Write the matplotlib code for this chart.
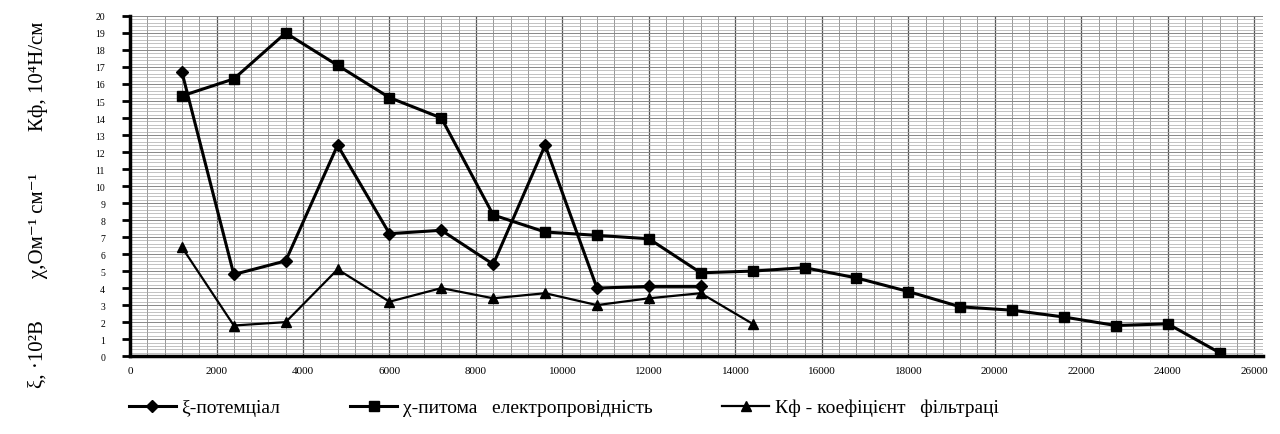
import numpy as np
import matplotlib
matplotlib.use("Agg")
import matplotlib.pyplot as plt
from matplotlib.ticker import MultipleLocator

plt.rcParams['font.family'] = ['Liberation Serif', 'DejaVu Serif']

# depth / sample values along x
x_xi = [1200, 2400, 3600, 4800, 6000, 7200, 8400, 9600, 10800, 12000, 13200]
xi = [16.7, 4.8, 5.6, 12.4, 7.2, 7.4, 5.4, 12.4, 4.0, 4.1, 4.1]

x_chi = [1200, 2400, 3600, 4800, 6000, 7200, 8400, 9600, 10800, 12000, 13200,
         14400, 15600, 16800, 18000, 19200, 20400, 21600, 22800, 24000, 25200]
chi = [15.3, 16.3, 19.0, 17.1, 15.2, 14.0, 8.3, 7.3, 7.1, 6.9, 4.9,
       5.0, 5.2, 4.6, 3.8, 2.9, 2.7, 2.3, 1.8, 1.9, 0.2]

x_kf = [1200, 2400, 3600, 4800, 6000, 7200, 8400, 9600, 10800, 12000, 13200, 14400]
kf = [6.4, 1.8, 2.0, 5.1, 3.2, 4.0, 3.4, 3.7, 3.0, 3.4, 3.7, 1.9]

labels = ["ξ-потемціал", "χ-питома   електропровідність", "Кф - коефіцієнт   фільтраці"]

fig = plt.figure(figsize=(12.8, 4.35), dpi=100)
ax = fig.add_axes([0.1016, 0.179, 0.885, 0.782])

ax.plot(x_xi, xi, color="black", lw=2.2, marker="D", ms=6, label=labels[0])
ax.plot(x_chi, chi, color="black", lw=2.2, marker="s", ms=7, label=labels[1])
ax.plot(x_kf, kf, color="black", lw=1.6, marker="^", ms=7, label=labels[2])

ax.set_xlim(0, 26200)
ax.set_ylim(0, 20)
ax.xaxis.set_major_locator(MultipleLocator(2000))
ax.xaxis.set_minor_locator(MultipleLocator(400))
ax.yaxis.set_major_locator(MultipleLocator(1))
ax.yaxis.set_minor_locator(MultipleLocator(0.2))
ax.grid(which="major", axis="x", color="#555555", lw=0.9)
ax.grid(which="minor", axis="x", color="#888888", lw=0.6)
ax.grid(which="major", axis="y", color="#888888", lw=0.7)
ax.grid(which="minor", axis="y", color="#aaaaaa", lw=0.5)
ax.set_axisbelow(True)

for s in ["top", "right"]:
    ax.spines[s].set_visible(False)
ax.spines["left"].set_linewidth(2.5)
ax.spines["bottom"].set_linewidth(2.5)
ax.tick_params(axis="y", which="major", length=6, width=2, labelsize=7, pad=12)
ax.tick_params(axis="x", which="major", length=0, labelsize=8, pad=7)
ax.tick_params(which="minor", length=0)

fig.text(0.03, 0.53, "ξ, ·10²В        χ,Ом⁻¹ см⁻¹        Кф, 10⁴Н/см",
         rotation=90, ha="center", va="center", fontsize=15)

fig.legend(loc="lower left", bbox_to_anchor=(0.087, 0.0), ncol=3, frameon=False,
           fontsize=14, columnspacing=3.6, handlelength=2.4, handletextpad=0.3)

fig.savefig("out.png", dpi=100)
